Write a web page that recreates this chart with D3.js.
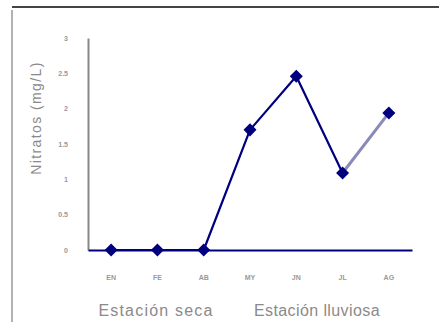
<!DOCTYPE html>
<html><head><meta charset="utf-8">
<script src="https://cdn.jsdelivr.net/npm/d3@7"></script>
<style>body{margin:0;background:#fff}svg{display:block}</style>
</head><body>
<script>
const months = ["EN","FE","AB","MY","JN","JL","AG"];
const nitratos = [0, 0, 0, 1.70, 2.46, 1.09, 1.94];
const yTicks = [0, 0.5, 1, 1.5, 2, 2.5, 3];
const yTickLabels = ["0","0.5","1","1.5","2","2.5","3"];
const seasons = ["Estación seca", "Estación lluviosa"];
const yTitle = "Nitratos (mg/L)";

const W = 439, H = 325;
const svg = d3.select("body").append("svg").attr("width", W).attr("height", H)
  .style("font-family", "'Liberation Sans', Arial, sans-serif");

// frame
svg.append("line").attr("x1", 12).attr("x2", 439).attr("y1", 7).attr("y2", 7)
  .attr("stroke", "#444").attr("stroke-width", 2);
svg.append("line").attr("x1", 12).attr("x2", 12).attr("y1", 10).attr("y2", 322)
  .attr("stroke", "#999").attr("stroke-width", 1.5);

const x = d3.scaleBand().domain(months).range([88, 412]);
const y = d3.scaleLinear().domain([0, 3]).range([250, 38]);
const cx = d => x(d) + x.bandwidth() / 2;

// y axis
const yAxis = svg.append("g").attr("transform", "translate(88,0)")
  .call(d3.axisLeft(y).tickValues(yTicks).tickSize(0).tickPadding(20)
    .tickFormat((d, i) => yTickLabels[i]));
yAxis.select(".domain").attr("stroke", "#888").attr("stroke-width", 2);
yAxis.selectAll("text").attr("fill", "#999").attr("font-size", 7).attr("font-weight", "bold");

// x axis
const xAxis = svg.append("g").attr("transform", "translate(0,250)")
  .call(d3.axisBottom(x).tickSize(0).tickPadding(25));
xAxis.select(".domain").attr("stroke", "#00007f").attr("stroke-width", 2);
xAxis.selectAll("text").attr("fill", "#999").attr("font-size", 7).attr("font-weight", "bold");

// y title
svg.append("text").attr("transform", "translate(41,118) rotate(-90)")
  .attr("text-anchor", "middle").attr("fill", "#8a8a8a").attr("font-size", 14)
  .attr("letter-spacing", 1.4)
  .text(yTitle);

// season labels
svg.append("text").attr("x", 156).attr("y", 316).attr("text-anchor", "middle")
  .attr("fill", "#8a8a8a").attr("font-size", 16).attr("letter-spacing", 1.2).text(seasons[0]);
svg.append("text").attr("x", 317).attr("y", 316).attr("text-anchor", "middle")
  .attr("fill", "#8a8a8a").attr("font-size", 16).attr("letter-spacing", 0.4).text(seasons[1]);

// line (main segment through JL)
const pts = months.map((m, i) => [cx(m), y(nitratos[i])]);
const line = d3.line();
svg.append("path").attr("d", line(pts.slice(0, 6))).attr("fill", "none")
  .attr("stroke", "#00007f").attr("stroke-width", 2.2).attr("stroke-linejoin", "round");
svg.append("path").attr("d", line(pts.slice(5, 7))).attr("fill", "none")
  .attr("stroke", "#8a8ab8").attr("stroke-width", 3);

// markers
svg.selectAll(".mk").data(pts).enter().append("path")
  .attr("d", d3.symbol().type(d3.symbolSquare).size(85))
  .attr("transform", d => `translate(${d[0]},${d[1]}) rotate(45)`)
  .attr("fill", "#00007f");
</script>
</body></html>
